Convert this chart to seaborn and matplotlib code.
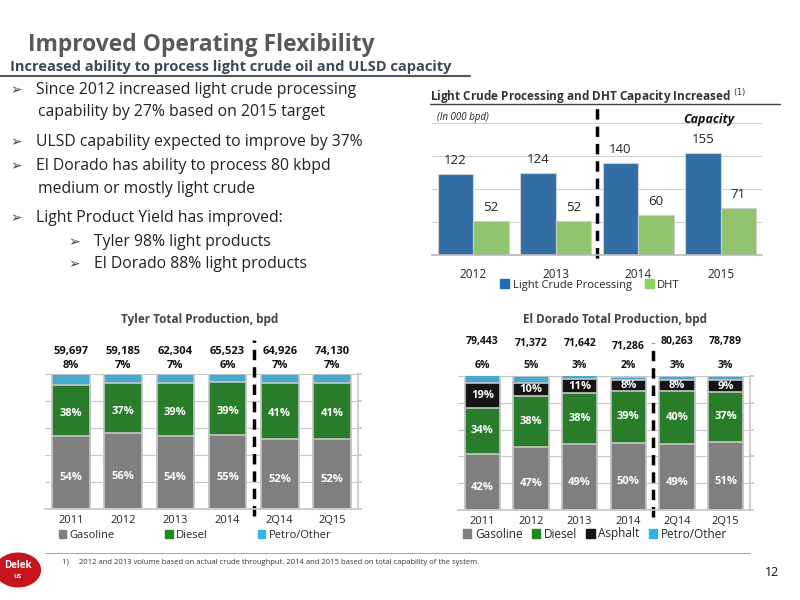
import matplotlib
matplotlib.use("Agg")
import matplotlib.pyplot as plt
import seaborn as sns
import pandas as pd
import numpy as np
from matplotlib.patches import Circle, Patch

sns.set_theme(style="white")
plt.rcParams['font.family'] = ['Open Sans', 'DejaVu Sans']

# ---- data ----
cap_years = ["2012", "2013", "2014", "2015"]
light_crude = [122, 124, 140, 155]
dht = [52, 52, 60, 71]

tyler_years = ["2011", "2012", "2013", "2014", "2Q14", "2Q15"]
tyler_totals = ["59,697", "59,185", "62,304", "65,523", "64,926", "74,130"]
tyler_gas = [54, 56, 54, 55, 52, 52]
tyler_diesel = [38, 37, 39, 39, 41, 41]
tyler_petro = [8, 7, 7, 6, 7, 7]

eld_years = ["2011", "2012", "2013", "2014", "2Q14", "2Q15"]
eld_totals = ["79,443", "71,372", "71,642", "71,286", "80,263", "78,789"]
eld_gas = [42, 47, 49, 50, 49, 51]
eld_diesel = [34, 38, 38, 39, 40, 37]
eld_asphalt = [19, 10, 11, 8, 8, 9]
eld_petro = [6, 5, 3, 2, 3, 3]

C_BLUE = "#1f6fb6"; C_LGREEN = "#8dd35f"
C_GRAY = "#7f7f7f"; C_GREEN = "#1b8a1b"; C_BLACK = "#141414"; C_CYAN = "#2fb4e6"

W, H = 800, 600
fig = plt.figure(figsize=(8, 6), dpi=100)

def ax_px(x0, y0, x1, y1):
    return fig.add_axes([x0 / W, 1 - y1 / H, (x1 - x0) / W, (y1 - y0) / H])

def ftext(x, y, s, **kw):
    fig.text(x / W, 1 - y / H, s, **kw)

# ---- header ----
ftext(28, 45, "Improved Operating Flexibility", fontsize=16.5, fontweight="bold", color="#595959", va="center")
ftext(10, 67, "Increased ability to process light crude oil and ULSD capacity", fontsize=10.5,
      fontweight="bold", color="#3d4a55", va="center")
fig.add_artist(plt.Line2D([0, 470 / W], [1 - 76 / H, 1 - 76 / H], color="#555555", lw=1.5))

bul = [(10, 90, "Since 2012 increased light crude processing"), (38, 112, "capability by 27% based on 2015 target", False),
       (10, 142, "ULSD capability expected to improve by 37%"), (10, 166, "El Dorado has ability to process 80 kbpd"),
       (38, 189, "medium or mostly light crude", False), (10, 218, "Light Product Yield has improved:"),
       (68, 242, "Tyler 98% light products"), (68, 264, "El Dorado 88% light products")]
for b in bul:
    x, y, s = b[0], b[1], b[2]
    if len(b) == 3:
        ftext(x, y, "➢", fontsize=10, color="#444444", va="center", family=['DejaVu Sans'])
        ftext(x + 26, y, s, fontsize=11.3, color="#222222", va="center")
    else:
        ftext(x, y, s, fontsize=11.3, color="#222222", va="center")

# ---- top right chart ----
ftext(430, 97, "Light Crude Processing and DHT Capacity Increased $^{(1)}$", fontsize=8.5, fontweight="bold",
      color="#333333", va="center")
fig.add_artist(plt.Line2D([430 / W, 780 / W], [1 - 104 / H, 1 - 104 / H], color="#444444", lw=1))
ax1 = ax_px(432, 115, 762, 255)
df1 = pd.DataFrame({"year": cap_years * 2, "val": light_crude + dht,
                    "series": ["Light Crude Processing"] * 4 + ["DHT"] * 4})
sns.barplot(data=df1, x="year", y="val", hue="series", palette=[C_BLUE, C_LGREEN], ax=ax1,
            width=0.86, edgecolor="#cfcfcf", linewidth=0.8, legend=False)
ax1.set_ylim(0, 212)
ax1.set_yticks([50, 100, 150, 200])
ax1.yaxis.grid(True, color="#d0d0d0", lw=0.8)
ax1.set_axisbelow(True)
ax1.set_yticklabels([]); ax1.set_xlabel(""); ax1.set_ylabel("")
ax1.tick_params(axis="x", labelsize=8.5, length=0, pad=9)
for s in ax1.spines.values():
    s.set_visible(False)
ax1.spines["bottom"].set_visible(True); ax1.spines["bottom"].set_color("#bbbbbb")
for cont in ax1.containers:
    ax1.bar_label(cont, padding=5, fontsize=9.5, color="#222222")
ax1.axvline(1.5, ymin=-0.02, ymax=1.08, color="black", ls=(0, (3, 2)), lw=2.5, clip_on=False)
ftext(437, 117, "(In 000 bpd)", fontsize=7, style="italic", color="#222222", va="center")
ftext(683, 120, "Capacity", fontsize=9, style="italic", fontweight="bold", color="#111111", va="center")
fig.legend(handles=[Patch(color=C_BLUE, label="Light Crude Processing"), Patch(color=C_LGREEN, label="DHT")],
           loc="center", bbox_to_anchor=(590 / W, 1 - 285 / H), ncol=2, frameon=False, fontsize=8,
           handlelength=0.8, handleheight=0.8, handletextpad=0.3, columnspacing=1.2)

# ---- stacked charts ----
def stacked(ax, years, layers, colors):
    cum = np.zeros(len(years))
    cums = []
    for vals in layers:
        cum = cum + np.array(vals)
        cums.append(cum.copy())
    for c, top in reversed(list(zip(colors, cums))):
        sns.barplot(x=years, y=top, color=c, ax=ax, width=0.72, edgecolor="#c8c8c8", linewidth=1.2)
    ax.set_ylim(0, 100)
    return cums

def style_stack(ax):
    ax.set_yticks([0, 20, 40, 60, 80, 100])
    ax.yaxis.grid(True, color="#c8c8c8", lw=0.8)
    ax.set_yticklabels([])
    ax.set_axisbelow(True)
    for s in ax.spines.values():
        s.set_visible(False)
    ax.spines["right"].set_visible(True); ax.spines["right"].set_color("#c8c8c8")
    ax.spines["bottom"].set_visible(True); ax.spines["bottom"].set_color("#c8c8c8")
    ax.tick_params(axis="x", labelsize=8, length=0, pad=4)
    ax.tick_params(axis="y", right=True, left=False, length=3, color="#c8c8c8", direction="out")
    ax.axvline(3.5, ymin=-0.05, ymax=1.25, color="black", ls=(0, (3, 2)), lw=2.5, clip_on=False)

# Tyler
ftext(200, 320, "Tyler Total Production, bpd", fontsize=8.5, fontweight="bold", color="#444444", ha="center", va="center")
ax2 = ax_px(45, 374, 358, 509)
cums = stacked(ax2, tyler_years, [tyler_gas, tyler_diesel, tyler_petro], [C_GRAY, C_GREEN, C_CYAN])
style_stack(ax2)
for i in range(len(tyler_years)):
    ax2.text(i, cums[0][i] / 2 - 4, f"{tyler_gas[i]}%", ha="center", va="center", color="white", fontsize=8, fontweight="bold")
    ax2.text(i, (cums[0][i] + cums[1][i]) / 2 - 2, f"{tyler_diesel[i]}%", ha="center", va="center", color="white", fontsize=8, fontweight="bold")
    ax2.text(i, 106, f"{tyler_petro[i]}%", ha="center", va="center", color="#111111", fontsize=8, fontweight="bold")
    ax2.text(i, 117, tyler_totals[i], ha="center", va="center", color="#111111", fontsize=8, fontweight="bold")
fig.legend(handles=[Patch(color=C_GRAY, label="Gasoline"), Patch(color=C_GREEN, label="Diesel"),
                    Patch(color=C_CYAN, label="Petro/Other")],
           loc="center", bbox_to_anchor=(195 / W, 1 - 535 / H), ncol=3, frameon=False, fontsize=8,
           handlelength=0.7, handleheight=0.7, handletextpad=0.3, columnspacing=4.5)

# El Dorado
ftext(615, 320, "El Dorado Total Production, bpd", fontsize=8.5, fontweight="bold", color="#444444", ha="center", va="center")
ax3 = ax_px(458, 376, 750, 510)
cums = stacked(ax3, eld_years, [eld_gas, eld_diesel, eld_asphalt, eld_petro], [C_GRAY, C_GREEN, C_BLACK, C_CYAN])
style_stack(ax3)
for i in range(len(eld_years)):
    ax3.text(i, cums[0][i] / 2 - 4, f"{eld_gas[i]}%", ha="center", va="center", color="white", fontsize=8, fontweight="bold")
    ax3.text(i, (cums[0][i] + cums[1][i]) / 2, f"{eld_diesel[i]}%", ha="center", va="center", color="white", fontsize=8, fontweight="bold")
    ax3.text(i, (cums[1][i] + cums[2][i]) / 2, f"{eld_asphalt[i]}%", ha="center", va="center", color="white", fontsize=8, fontweight="bold")
    ax3.text(i, 108, f"{eld_petro[i]}%", ha="center", va="center", color="#111111", fontsize=7.5, fontweight="bold")
    yt = {0: 126, 1: 124, 2: 124, 3: 122}.get(i, 126)
    ax3.text(i, yt, eld_totals[i], ha="center", va="center", color="#111111", fontsize=7.5, fontweight="bold")
fig.legend(handles=[Patch(color=C_GRAY, label="Gasoline"), Patch(color=C_GREEN, label="Diesel"),
                    Patch(color=C_BLACK, label="Asphalt"), Patch(color=C_CYAN, label="Petro/Other")],
           loc="center", bbox_to_anchor=(595 / W, 1 - 534 / H), ncol=4, frameon=False, fontsize=8.5,
           handlelength=0.7, handleheight=0.7, handletextpad=0.3, columnspacing=0.8)

# ---- footer ----
fig.add_artist(plt.Line2D([45 / W, 750 / W], [1 - 553 / H, 1 - 553 / H], color="#aaaaaa", lw=0.8))
ftext(62, 563, "1)     2012 and 2013 volume based on actual crude throughput. 2014 and 2015 based on total capability of the system.",
      fontsize=5.5, color="#333333", va="center")
ftext(765, 573, "12", fontsize=9, color="#111111", va="center")
logo = Circle((18 / W, 1 - 570 / H), 0.028, transform=fig.transFigure, color="#c4161c")
fig.add_artist(logo)
ftext(18, 565, "Delek", fontsize=7, fontweight="bold", color="white", ha="center", va="center")
ftext(18, 576, "US", fontsize=4.5, fontweight="bold", color="white", ha="center", va="center")

fig.savefig("out.png", dpi=100)
